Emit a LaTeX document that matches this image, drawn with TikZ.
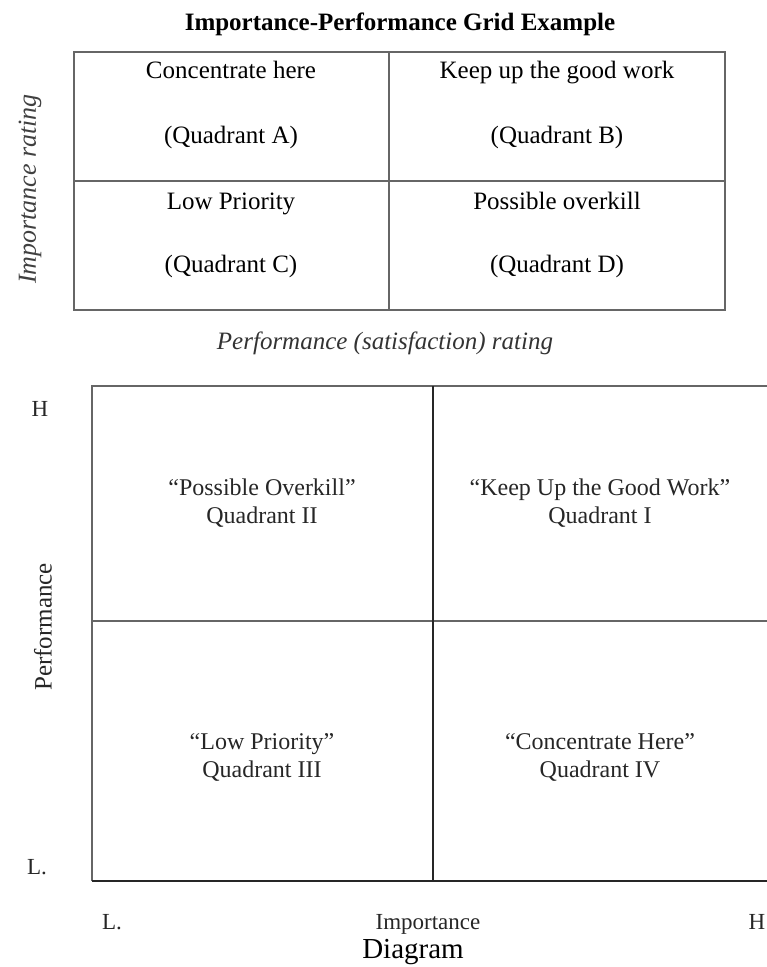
\documentclass[tikz,border=0pt]{standalone}
\usepackage{fontspec}
\setmainfont{Liberation Serif}
\begin{document}
\begin{tikzpicture}[x=1pt, y=-1pt,
  cell/.style={font=\fontsize{25}{29}\selectfont, align=center, text height=18pt, text depth=6pt},
  quad/.style={font=\fontsize{24}{28}\selectfont, align=center, text=black!85},
  tick/.style={font=\fontsize{23}{27}\selectfont, text=black!85, text height=16pt, text depth=5pt},
  grid/.style={draw=black!60, line width=2pt},
  axis/.style={draw=black!85, line width=2.4pt}]
\useasboundingbox (0,0) rectangle (767,967);
% upper grid
\node[font=\bfseries\fontsize{25}{29}\selectfont] (title) at (400,24) {Importance-Performance Grid Example};
\draw[grid] (74,52) rectangle (725,310);
\draw[grid] (389,52) -- (389,310);
\draw[grid] (74,181) -- (725,181);
\node[cell] (a1) at (231,72) {Concentrate here};
\node[cell] (a2) at (231,137) {(Quadrant A)};
\node[cell] (b1) at (557,72) {Keep up the good work};
\node[cell] (b2) at (557,137) {(Quadrant B)};
\node[cell] (c1) at (231,203) {Low Priority};
\node[cell] (c2) at (231,266) {(Quadrant C)};
\node[cell] (d1) at (557,203) {Possible overkill};
\node[cell] (d2) at (557,266) {(Quadrant D)};
\node[font=\itshape\fontsize{26}{30}\selectfont, rotate=90, text=black!75] (ylab) at (30,189) {Importance rating};
\node[font=\itshape\fontsize{25}{29}\selectfont, text=black!80] (xlab) at (385,343) {Performance (satisfaction) rating};
% lower grid
\draw[grid] (92,881) -- (92,386) -- (767,386);
\draw[grid] (92,621) -- (767,621);
\draw[axis] (433,386) -- (433,881);
\draw[axis] (92,881) -- (767,881);
\node[quad] (q2) at (262,503) {``Possible Overkill''\\Quadrant II};
\node[quad] (q1) at (600,503) {``Keep Up the Good Work''\\Quadrant I};
\node[quad] (q3) at (262,757) {``Low Priority''\\Quadrant III};
\node[quad] (q4) at (600,757) {``Concentrate Here''\\Quadrant IV};
\node[tick] (yh) at (40,411) {H};
\node[tick] (yl) at (37,869) {L.};
\node[font=\fontsize{25}{29}\selectfont, rotate=90, text=black!85] (perf) at (43,627) {Performance};
\node[tick] (xl) at (112,924) {L.};
\node[tick] (imp) at (428,924) {Importance};
\node[tick] (xh) at (757,924) {H};
\node[font=\fontsize{29}{33}\selectfont] (cap) at (413,952) {Diagram};
\end{tikzpicture}
\end{document}
